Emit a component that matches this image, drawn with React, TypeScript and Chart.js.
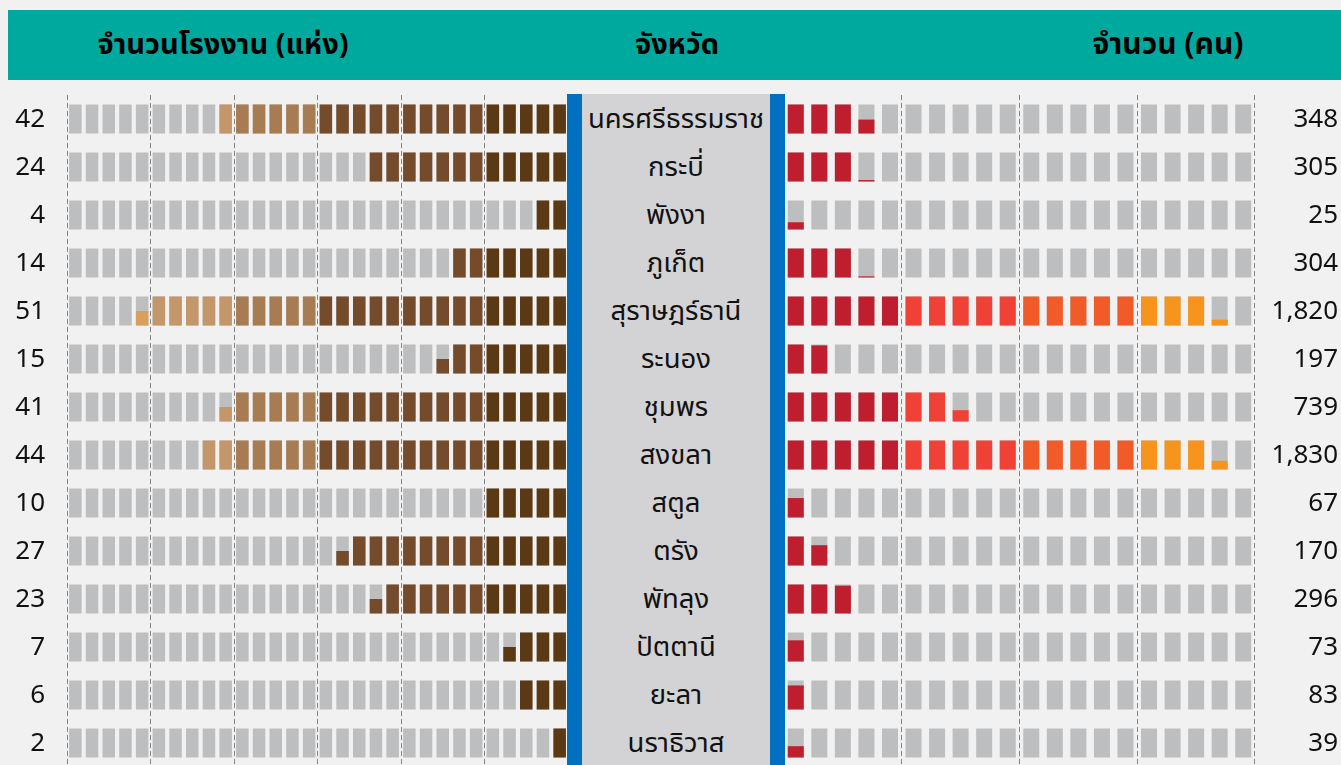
import React, { useEffect, useRef } from "react";
import { Chart, registerables } from "chart.js";

Chart.register(...registerables);

// ---------------- data ----------------
const provinces = [
  "นครศรีธรรมราช",
  "กระบี่",
  "พังงา",
  "ภูเก็ต",
  "สุราษฎร์ธานี",
  "ระนอง",
  "ชุมพร",
  "สงขลา",
  "สตูล",
  "ตรัง",
  "พัทลุง",
  "ปัตตานี",
  "ยะลา",
  "นราธิวาส",
];
const factoryCounts = [42, 24, 4, 14, 51, 15, 41, 44, 10, 27, 23, 7, 6, 2];
const workerCounts = [348, 305, 25, 304, 1820, 197, 739, 1830, 67, 170, 296, 73, 83, 39];
const factoryTickLabels = factoryCounts.map((v) => v.toLocaleString("en-US"));
const workerTickLabels = workerCounts.map((v) => v.toLocaleString("en-US"));
const headerLabels = ["จำนวนโรงงาน (แห่ง)", "จังหวัด", "จำนวน (คน)"];

const FACTORIES_PER_BLOCK = 2;
const WORKERS_PER_BLOCK = 100;
const LEFT_BLOCKS = 30;
const RIGHT_BLOCKS = 20;

// ---------------- styles ----------------
const leftGroupColors = ["#5c3915", "#744c2b", "#744c2b", "#a87c52", "#c4976b", "#d99f5c"];
const rightGroupColors = ["#be1e2d", "#ef4136", "#f15a29", "#f7941d", "#fbb040"];
const GRAY = "#bdbec0";
const GRID = "#858585";
const BG = "#f1f1f1";
const TEAL = "#00a99d";
const BLUE = "#0070c0";
const CENTER = "#d3d3d5";
const NUM_FONT = "'Noto Sans', 'DejaVu Sans', sans-serif";
const THAI_FONT = "Tahoma, 'Noto Sans Thai', 'Noto Sans', sans-serif";
const HALF = 14.5 / 48; // half block height in row units

const TOP = 95;
const ROW_H = 48;

type BlockProps = {
  values: number[];
  perBlock: number;
  nBlocks: number;
  groupColors: string[];
  side: "left" | "right";
  left: number;
  width: number;
  tickLabels: string[];
  barPct: number;
  axisWidth: number;
  padRight: number;
  tickPadding: number;
};

function BlockChart(p: BlockProps) {
  const ref = useRef<HTMLCanvasElement>(null);
  const height = p.values.length * ROW_H;
  useEffect(() => {
    const labels = Array.from({ length: p.nBlocks }, (_, k) => String(k + 1));
    const datasets: any[] = [];
    p.values.forEach((_v, r) => {
      const top = r - HALF;
      const bottom = r + HALF;
      datasets.push({
        label: "bg" + r,
        data: labels.map(() => [top, bottom]),
        backgroundColor: GRAY,
        order: 2,
      });
    });
    p.values.forEach((v, r) => {
      const top = r - HALF;
      const bottom = r + HALF;
      const blocks = v / p.perBlock;
      datasets.push({
        label: "fill" + r,
        data: labels.map((_, k) => {
          const f = Math.min(1, blocks - k);
          return f > 0 ? [bottom - f * (bottom - top), bottom] : null;
        }),
        backgroundColor: labels.map((_, k) => p.groupColors[Math.floor(k / 5)]),
        order: 1,
      });
    });
    const chart = new Chart(ref.current as HTMLCanvasElement, {
      type: "bar",
      data: { labels, datasets },
      options: {
        responsive: false,
        animation: false,
        events: [],
        layout: { padding: { left: 0, right: p.padRight, top: 0, bottom: 0 } },
        datasets: {
          bar: {
            grouped: false,
            barPercentage: p.barPct,
            categoryPercentage: 1,
            borderWidth: 0,
          },
        },
        plugins: { legend: { display: false }, tooltip: { enabled: false } },
        scales: {
          x: {
            type: "category",
            position: "top",
            reverse: p.side === "left",
            offset: true,
            grid: {
              display: true,
              offset: true,
              drawTicks: false,
              lineWidth: 1,
              color: (ctx: any) =>
                ((ctx.index ?? p.nBlocks) % 5 === 0 ? GRID : "rgba(0,0,0,0)"),
            },
            border: { display: false, dash: [5, 3] },
            ticks: { display: false },
            afterFit: (s: any) => {
              s.height = 0;
              s.paddingLeft = 0;
              s.paddingRight = 0;
            },
          },
          y: {
            type: "linear",
            position: p.side,
            reverse: true,
            min: -0.5,
            max: p.values.length - 0.5,
            grid: { display: false },
            border: { display: false },
            afterBuildTicks: (s: any) => {
              s.ticks = p.values.map((_, i) => ({ value: i }));
            },
            afterFit: (s: any) => {
              s.width = p.axisWidth;
              s.paddingTop = 0;
              s.paddingBottom = 0;
            },
            ticks: {
              padding: p.tickPadding,
              labelOffset: 1,
              crossAlign: p.side === "right" ? "far" : "near",
              color: "#111111",
              font: { family: NUM_FONT, size: 26 },
              callback: (_v: any, i: number) => p.tickLabels[i],
            },
          },
        },
      } as any,
    });
    return () => chart.destroy();
  }, []);
  return (
    <canvas
      ref={ref}
      width={p.width}
      height={height}
      style={{ position: "absolute", left: p.left, top: TOP, width: p.width, height }}
    />
  );
}

export default function App() {
  const rowsH = provinces.length * ROW_H;
  const headerSizes = [29, 29, 30];
  return (
    <div
      style={{
        position: "fixed",
        left: 0,
        top: 0,
        width: 1341,
        height: 765,
        overflow: "hidden",
        background: BG,
      }}
    >
      {/* header band */}
      <div
        style={{
          position: "absolute",
          left: 8,
          top: 10,
          width: 1333,
          height: 70,
          background: TEAL,
        }}
      />
      {[223, 677, 1168].map((cx, i) => (
        <div
          key={i}
          style={{
            position: "absolute",
            left: cx - 200,
            width: 400,
            top: 10,
            height: 70,
            lineHeight: "70px",
            textAlign: "center",
            fontFamily: THAI_FONT,
            fontWeight: "bold",
            fontSize: headerSizes[i],
            color: "#000",
          }}
        >
          {headerLabels[i]}
        </div>
      ))}

      <BlockChart
        values={factoryCounts}
        perBlock={FACTORIES_PER_BLOCK}
        nBlocks={LEFT_BLOCKS}
        groupColors={leftGroupColors}
        side="left"
        left={0}
        width={568}
        tickLabels={factoryTickLabels}
        barPct={0.75}
        axisWidth={67}
        padRight={0}
        tickPadding={14}
      />
      <BlockChart
        values={workerCounts}
        perBlock={WORKERS_PER_BLOCK}
        nBlocks={RIGHT_BLOCKS}
        groupColors={rightGroupColors}
        side="right"
        left={784}
        width={557}
        tickLabels={workerTickLabels}
        barPct={0.68}
        axisWidth={83}
        padRight={3}
        tickPadding={0}
      />

      {/* center province column */}
      <div
        style={{
          position: "absolute",
          left: 567,
          top: TOP - 1,
          width: 188,
          height: rowsH + 2,
          background: CENTER,
          borderLeft: `15px solid ${BLUE}`,
          borderRight: `15px solid ${BLUE}`,
        }}
      >
        {provinces.map((name, i) => (
          <div
            key={name}
            style={{
              position: "absolute",
              left: 0,
              width: 188,
              top: i * ROW_H + 2,
              height: ROW_H,
              lineHeight: ROW_H + "px",
              textAlign: "center",
              fontFamily: THAI_FONT,
              fontSize: 27.5,
              color: "#111",
            }}
          >
            {name}
          </div>
        ))}
      </div>
    </div>
  );
}
